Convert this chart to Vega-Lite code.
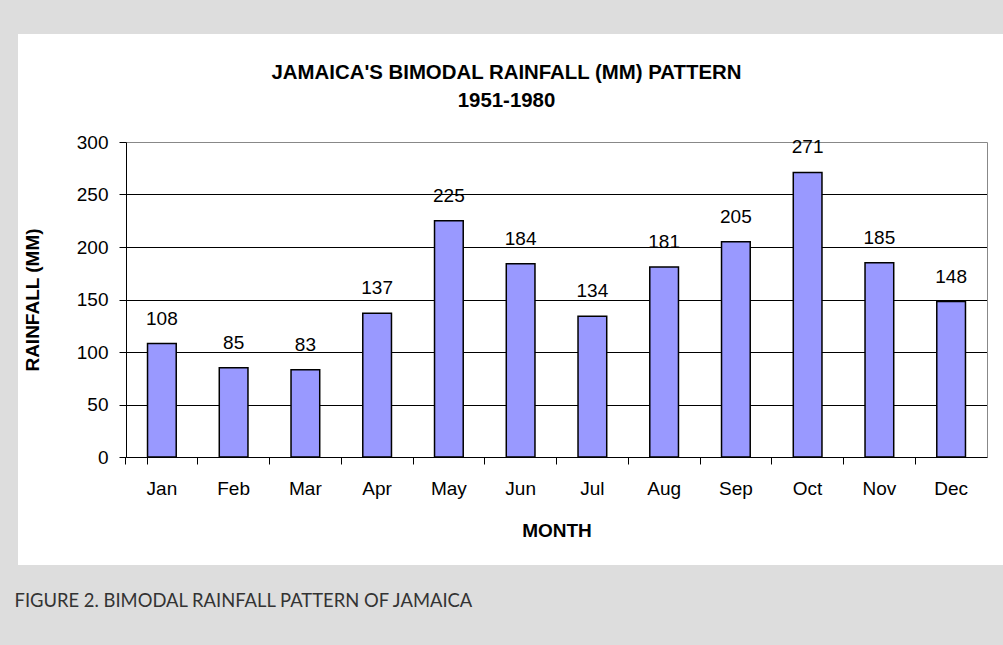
{
  "$schema": "https://vega.github.io/schema/vega-lite/v6.json",
  "autosize": {"type": "none"},
  "width": 861,
  "height": 315,
  "padding": {"left": 126, "top": 142, "right": 16, "bottom": 188},
  "background": "#dddddd",
  "config": {
    "view": {"fill": "white", "stroke": "white", "strokeWidth": 216},
    "font": "Liberation Sans"
  },
  "title": {
    "text": "JAMAICA'S BIMODAL RAINFALL (MM) PATTERN",
    "subtitle": "1951-1980",
    "anchor": "middle",
    "frame": "group",
    "dx": -50,
    "offset": 22,
    "font": "Liberation Sans",
    "fontSize": 20.4,
    "fontWeight": "bold",
    "color": "black",
    "subtitleFont": "Liberation Sans",
    "subtitleFontSize": 20.4,
    "subtitleFontWeight": "bold",
    "subtitleColor": "black",
    "subtitlePadding": 7
  },
  "data": {
    "values": [
      {"month": "Jan", "rain": 108},
      {"month": "Feb", "rain": 85},
      {"month": "Mar", "rain": 83},
      {"month": "Apr", "rain": 137},
      {"month": "May", "rain": 225},
      {"month": "Jun", "rain": 184},
      {"month": "Jul", "rain": 134},
      {"month": "Aug", "rain": 181},
      {"month": "Sep", "rain": 205},
      {"month": "Oct", "rain": 271},
      {"month": "Nov", "rain": 185},
      {"month": "Dec", "rain": 148}
    ]
  },
  "resolve": {"axis": {"x": "independent", "y": "independent"}},
  "layer": [
    {
      "mark": {"type": "bar", "color": "#9999ff", "stroke": "black", "strokeWidth": 1.5},
      "encoding": {
        "x": {
          "field": "month", "type": "nominal", "sort": null,
          "scale": {"paddingInner": 0.6, "paddingOuter": 0.3},
          "axis": {
            "orient": "bottom",
            "title": "MONTH",
            "labelAngle": 0,
            "labelFont": "Liberation Sans",
            "labelFontSize": 19,
            "labelColor": "black",
            "labelPadding": 15,
            "tickSize": 7,
            "tickColor": "black",
            "bandPosition": -0.75,
            "tickExtra": true,
            "domainColor": "black",
            "titleFont": "Liberation Sans",
            "titleFontSize": 19,
            "titleFontWeight": "bold",
            "titleColor": "black",
            "titlePadding": 23
          }
        },
        "y": {
          "field": "rain", "type": "quantitative",
          "scale": {"domain": [0, 300], "nice": false},
          "axis": {
            "orient": "left",
            "values": [0, 50, 100, 150, 200, 250, 300],
            "title": "RAINFALL (MM)",
            "labelFont": "Liberation Sans",
            "labelFontSize": 19,
            "labelColor": "black",
            "labelPadding": 11,
            "tickSize": 7,
            "tickColor": "black",
            "domainColor": "black",
            "grid": true,
            "gridColor": {"condition": {"test": "datum.value === 300", "value": "#888888"}, "value": "black"},
            "gridOpacity": 1,
            "titleFont": "Liberation Sans",
            "titleFontSize": 19,
            "titleFontWeight": "bold",
            "titleColor": "black",
            "titlePadding": 34
          }
        }
      }
    },
    {
      "mark": {"type": "text", "baseline": "alphabetic", "dy": -19, "font": "Liberation Sans", "fontSize": 19, "color": "black"},
      "encoding": {
        "x": {
          "field": "month", "type": "nominal", "sort": null,
          "axis": {
            "orient": "bottom",
            "domain": false,
            "ticks": false,
            "labels": false,
            "grid": false,
            "title": "FIGURE 2. BIMODAL RAINFALL PATTERN OF JAMAICA",
            "titleFont": "Lato",
            "titleFontSize": 18.4,
            "titleFontWeight": "normal",
            "titleColor": "#333333",
            "titleAnchor": "start",
            "titleAlign": "left",
            "titleX": -112,
            "titlePadding": 134
          }
        },
        "y": {
          "field": "rain", "type": "quantitative",
          "axis": {
            "orient": "right",
            "domainColor": "#888888",
            "ticks": false,
            "labels": false,
            "grid": false,
            "title": null
          }
        },
        "text": {"field": "rain", "type": "quantitative"}
      }
    }
  ]
}
